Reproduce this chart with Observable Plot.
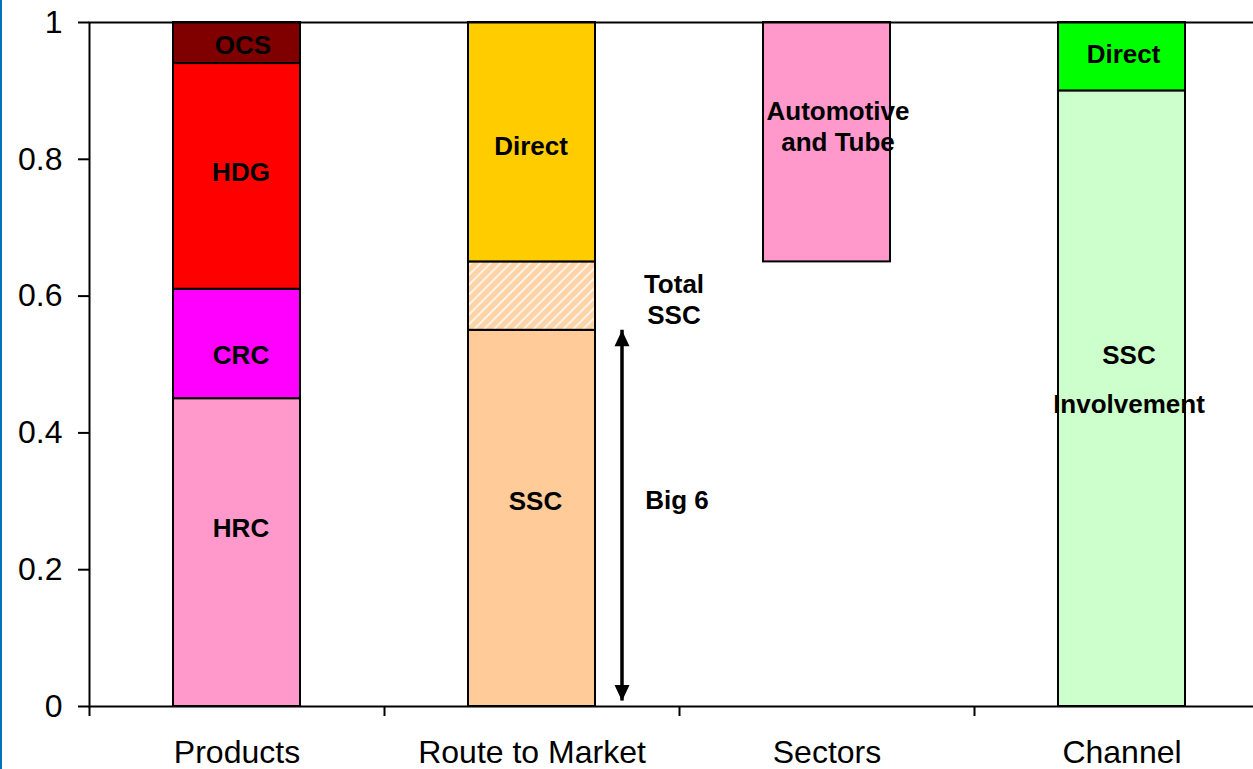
<!DOCTYPE html>
<html>
<head>
<meta charset="utf-8">
<script src="https://cdn.jsdelivr.net/npm/d3@7"></script>
<script src="https://cdn.jsdelivr.net/npm/@observablehq/plot@0.6"></script>
<style>
  html, body { margin: 0; padding: 0; overflow: hidden; background: #fff; }
  #wrap { position: relative; width: 1253px; height: 769px; overflow: hidden; }
  #chart svg { max-width: none !important; }
  #edge { position: absolute; left: 0; top: 0; width: 2px; height: 769px; background: #0070C0; }
</style>
</head>
<body>
<div id="wrap"><div id="chart"></div><div id="edge"></div></div>
<script>
// ---- data ----
const categories = ["Products", "Route to Market", "Sectors", "Channel"];
const yTicks = [0, 0.2, 0.4, 0.6, 0.8, 1];

const segCategory = ["Products", "Products", "Products", "Products",
  "Route to Market", "Route to Market", "Route to Market",
  "Sectors", "Channel", "Channel"];
const segName = ["HRC", "CRC", "HDG", "OCS", "SSC", "Other SSC", "Direct",
  "Automotive and Tube", "SSC Involvement", "Direct (channel)"];
const segFrom = [0, 0.45, 0.61, 0.94, 0, 0.55, 0.65, 0.65, 0, 0.9];
const segTo   = [0.45, 0.61, 0.94, 1, 0.55, 0.65, 1, 1, 0.9, 1];

const labelText = ["OCS", "HDG", "CRC", "HRC", "Direct", "SSC", "Total\nSSC", "Big 6",
  "Automotive\nand Tube", "Direct", "SSC\nInvolvement"];
const labelCategory = ["Products", "Products", "Products", "Products",
  "Route to Market", "Route to Market", "Route to Market", "Route to Market",
  "Sectors", "Channel", "Channel"];
const labelValue = [0.966, 0.781, 0.513, 0.260, 0.819, 0.300, 0.596, 0.301, 0.849, 0.953, 0.488];

// Big 6 arrow range (value space)
const big6Category = "Route to Market";
const big6From = 0.008;
const big6To = 0.55;

// ---- styles ----
const segFill = ["#FF99CC", "#FF00FF", "#FF0000", "#800000", "#FFCC99", "url(#hatch)",
  "#FFCC00", "#FF99CC", "#CCFFCC", "#00FF00"];
const labelDx = [6, 4, 4, 4, -1, 3.5, 142, 145, 11, 1.5, 7];
const labelLineHeight = [1, 1, 1, 1, 1, 1, 1.2, 1, 1.2, 1, 1.9];
const arrowDx = 90;

const segments = segName.map((n, i) => ({
  category: segCategory[i], name: n, from: segFrom[i], to: segTo[i], fill: segFill[i]
}));
const labels = labelText.map((t, i) => ({category: labelCategory[i], text: t, value: labelValue[i]}));

const headUp = {draw(ctx) { ctx.moveTo(0, 0); ctx.lineTo(-7.5, 16); ctx.lineTo(7.5, 16); ctx.closePath(); }};
const headDown = {draw(ctx) { ctx.moveTo(0, 0); ctx.lineTo(-7.5, -16); ctx.lineTo(7.5, -16); ctx.closePath(); }};

const FONT = "'Liberation Sans', Arial, sans-serif";

const marks = [
  Plot.barY(segments, {
    x: "category", y1: "from", y2: "to", fill: "fill",
    stroke: "black", strokeWidth: 2, insetLeft: 84, insetRight: 84
  }),
  ...labels.map((d, i) => Plot.text([d], {
    x: "category", y: "value", text: "text", dx: labelDx[i],
    fontSize: 26, fontWeight: "bold", fill: "black", lineHeight: labelLineHeight[i],
    textAnchor: "middle"
  })),
  Plot.ruleX([big6Category], {y1: big6From, y2: big6To, dx: arrowDx, stroke: "black", strokeWidth: 3.5}),
  Plot.dot([{c: big6Category, v: big6To}], {x: "c", y: "v", dx: arrowDx, symbol: headUp, fill: "black", stroke: null, r: 5}),
  Plot.dot([{c: big6Category, v: big6From}], {x: "c", y: "v", dx: arrowDx, symbol: headDown, fill: "black", stroke: null, r: 5}),
  Plot.frame({stroke: "black", strokeWidth: 2}),
  Plot.axisY({ticks: yTicks, tickFormat: d => String(d), tickSize: 11, tickPadding: 16,
    fontSize: 32, strokeWidth: 2, label: null}),
  Plot.axisX({tickSize: 0, tickPadding: 34, fontSize: 32, label: null}),
  Plot.axisX({tickSize: 10, dx: -147.5, text: null, strokeWidth: 2, label: null})
];

const chart = Plot.plot({
  width: 1270,
  height: 769,
  marginLeft: 89,
  marginRight: 1,
  marginTop: 22,
  marginBottom: 63,
  style: {fontFamily: FONT, color: "black", background: "white", overflow: "visible", maxWidth: "none"},
  x: {type: "band", domain: categories, padding: 0, round: false},
  y: {domain: [0, 1]},
  color: {type: "identity"},
  marks
});

// hatch pattern definition
const defs = d3.select(chart).insert("defs", ":first-child");
const pat = defs.append("pattern").attr("id", "hatch").attr("patternUnits", "userSpaceOnUse")
  .attr("width", 7).attr("height", 7).attr("patternTransform", "rotate(45)");
pat.append("rect").attr("width", 7).attr("height", 7).attr("fill", "#FFD3A8");
pat.append("line").attr("x1", 1).attr("y1", 0).attr("x2", 1).attr("y2", 7)
  .attr("stroke", "#FFF3E6").attr("stroke-width", 2);

document.getElementById("chart").appendChild(chart);
</script>
</body>
</html>
